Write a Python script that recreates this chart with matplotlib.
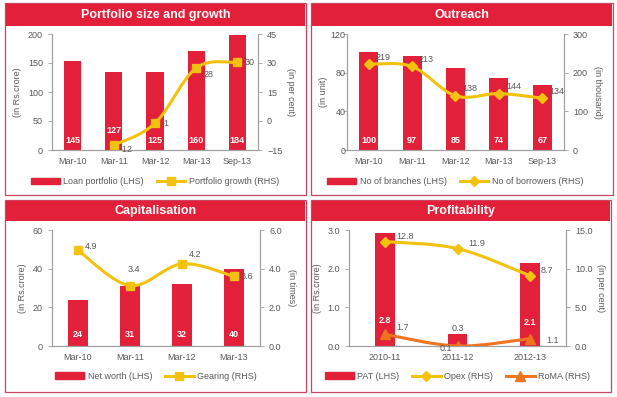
import matplotlib
matplotlib.use("Agg")
import matplotlib.pyplot as plt
from matplotlib.patches import Rectangle, PathPatch, Patch
from matplotlib.path import Path
from matplotlib.lines import Line2D
import numpy as np

plt.rcParams['font.family'] = ['Liberation Sans', 'DejaVu Sans']

# ---------------- data ----------------
port_cats = ["Mar-10", "Mar-11", "Mar-12", "Mar-13", "Sep-13"]
port_loan = [154, 135, 134, 171, 198]           # bar heights as drawn
port_loan_labels = ["145", "127", "125", "160", "184"]
port_growth_x = [1, 2, 3, 4]
port_growth = [-12.5, -1.2, 27.5, 30.3]
port_growth_labels = ["-12", "-1", "28", "30"]

out_cats = ["Mar-10", "Mar-11", "Mar-12", "Mar-13", "Sep-13"]
out_branches = [101, 97.5, 85, 74, 67]
out_branch_labels = ["100", "97", "85", "74", "67"]
out_borrowers = [222, 216, 140, 146, 134]
out_borrower_labels = ["219", "213", "138", "144", "134"]

cap_cats = ["Mar-10", "Mar-11", "Mar-12", "Mar-13"]
cap_networth = [24, 31, 32, 40]
cap_networth_labels = ["24", "31", "32", "40"]
cap_gearing = [4.95, 3.12, 4.25, 3.6]
cap_gearing_labels = ["4.9", "3.4", "4.2", "3.6"]

prof_cats = ["2010-11", "2011-12", "2012-13"]
prof_pat = [2.91, 0.32, 2.15]
prof_pat_labels = ["2.8", "0.3", "2.1"]
prof_opex = [13.5, 12.6, 9.1]
prof_opex_labels = ["12.8", "11.9", "8.7"]
prof_roma = [1.5, 0.0, 0.95]
prof_roma_labels = ["1.7", "0.1", "1.1"]

# ---------------- style ----------------
RED = '#E2203A'
YEL = '#F3C20F'
ORG = '#EE7420'
GRAY = '#595959'
SPINE = '#A0A0A0'
W, H = 617, 397

fig = plt.figure(figsize=(W / 100, H / 100), dpi=100)
fig.patch.set_facecolor('white')


def fx(x):
    return x / W


def fy(y):
    return 1 - y / H


def panel(x0, y0, x1, y1, title, banner_h):
    fig.add_artist(Rectangle((fx(x0), fy(y1)), fx(x1 - x0), (y1 - y0) / H,
                             transform=fig.transFigure, fill=False,
                             edgecolor='#C9465E', lw=0.9))
    fig.add_artist(Rectangle((fx(x0 + 1), fy(y0 + 1 + banner_h)), fx(x1 - x0 - 2), banner_h / H,
                             transform=fig.transFigure, facecolor=RED, edgecolor='none'))
    fig.text(fx((x0 + x1) / 2), fy(y0 + 1 + banner_h / 2), title, color='white',
             fontsize=9, fontweight='bold', ha='center', va='center')


def make_axes(l, r, t, b):
    ax = fig.add_axes([fx(l), fy(b), fx(r - l), (b - t) / H])
    ax2 = ax.twinx()
    for a in (ax, ax2):
        for s in ('top',):
            a.spines[s].set_visible(False)
        for s in ('left', 'right', 'bottom'):
            a.spines[s].set_color(SPINE)
            a.spines[s].set_linewidth(0.8)
        a.tick_params(colors=GRAY, labelsize=6.5, length=3, width=0.6, color=SPINE)
        a.tick_params(axis='x', length=0, pad=5)
    ax.set_zorder(1)
    ax2.set_zorder(2)
    ax.patch.set_visible(False)
    return ax, ax2


def smooth(ax, xs, ys, color, lw):
    xs = np.asarray(xs, float)
    ys = np.asarray(ys, float)
    n = len(xs)
    verts = [(xs[0], ys[0])]
    codes = [Path.MOVETO]
    for i in range(n - 1):
        p0 = (xs[i - 1], ys[i - 1]) if i > 0 else (xs[i], ys[i])
        p1 = (xs[i], ys[i])
        p2 = (xs[i + 1], ys[i + 1])
        p3 = (xs[i + 2], ys[i + 2]) if i + 2 < n else p2
        c1 = (p1[0] + (p2[0] - p0[0]) / 6, p1[1] + (p2[1] - p0[1]) / 6)
        c2 = (p2[0] - (p3[0] - p1[0]) / 6, p2[1] - (p3[1] - p1[1]) / 6)
        verts += [c1, c2, p2]
        codes += [Path.CURVE4] * 3
    ax.add_patch(PathPatch(Path(verts, codes), facecolor='none', edgecolor=color,
                           lw=lw, capstyle='round', joinstyle='round'))


def legend(ax, handles, labels, y):
    ax.legend(handles, labels, loc='center', bbox_to_anchor=(0.5, y), ncol=len(handles),
              frameon=False, fontsize=6.5, handlelength=3.2, handletextpad=0.4,
              columnspacing=1.4, labelcolor=GRAY)


def bar_labels(ax, xs, labels, yfrac, color='white'):
    for x, lab, yf in zip(xs, labels, yfrac):
        ax.text(x, yf, lab, transform=ax.get_xaxis_transform(), ha='center', va='center',
                color=color, fontsize=6.5, fontweight='bold', zorder=5)


# ---------------- panels ----------------
panel(5, 3, 306, 195, "Portfolio size and growth", 22)
panel(311, 3, 613, 195, "Outreach", 22)
panel(5, 200, 306, 392, "Capitalisation", 20)
panel(311, 200, 611, 392, "Profitability", 20)

# ---- Portfolio ----
ax, ax2 = make_axes(52, 258, 34, 150)
x = np.arange(len(port_cats))
ax.bar(x, port_loan, width=0.42, color=RED, zorder=2)
ax.set_xlim(-0.5, len(port_cats) - 0.5)
ax.set_ylim(0, 200)
ax.set_yticks([0, 50, 100, 150, 200])
ax.set_xticks(x, port_cats)
ax2.set_ylim(-15, 45)
ax2.set_yticks([-15, 0, 15, 30, 45])
smooth(ax2, port_growth_x, port_growth, YEL, 2.2)
ax2.plot(port_growth_x, port_growth, ls='none', marker='s', ms=6, color=YEL)
for xx, yy, lab, off in zip(port_growth_x, port_growth, port_growth_labels,
                            [(4, -3), (5, 0), (5, -5), (5, 0)]):
    ax2.annotate(lab, (xx, yy), xytext=off, textcoords='offset points', fontsize=6.5,
                 color=GRAY, va='center', ha='left')
bar_labels(ax, x, port_loan_labels, [0.08, 0.17, 0.08, 0.08, 0.08])
ax.set_ylabel("(in Rs.crore)", color=GRAY, fontsize=6.5, labelpad=4)
ax2.set_ylabel("(in per cent)", color=GRAY, fontsize=6.5, rotation=-90, labelpad=9)
legend(ax2, [Patch(color=RED), Line2D([], [], color=YEL, lw=2.2, marker='s', ms=6)],
       ["Loan portfolio (LHS)", "Portfolio growth (RHS)"], -0.275)

# ---- Outreach ----
ax, ax2 = make_axes(347, 564, 34, 150)
x = np.arange(len(out_cats))
ax.bar(x, out_branches, width=0.44, color=RED, zorder=2)
ax.set_xlim(-0.5, len(out_cats) - 0.5)
ax.set_ylim(0, 120)
ax.set_yticks([0, 40, 80, 120])
ax.set_xticks(x, out_cats)
ax.tick_params(axis='y', pad=-2)
ax2.set_ylim(0, 300)
ax2.set_yticks([0, 100, 200, 300])
smooth(ax2, x, out_borrowers, YEL, 2.2)
ax2.plot(x, out_borrowers, ls='none', marker='D', ms=5, color=YEL)
for xx, yy, lab in zip(x, out_borrowers, out_borrower_labels):
    ax2.annotate(lab, (xx, yy), xytext=(5, 5), textcoords='offset points', fontsize=6.5,
                 color=GRAY, va='center', ha='left')
bar_labels(ax, x, out_branch_labels, [0.08] * 5)
ax.set_ylabel("(in unit)", color=GRAY, fontsize=6.5, labelpad=2)
ax2.set_ylabel("(in thousand)", color=GRAY, fontsize=6.5, rotation=-90, labelpad=10)
legend(ax2, [Patch(color=RED), Line2D([], [], color=YEL, lw=2.2, marker='D', ms=5)],
       ["No of branches (LHS)", "No of borrowers (RHS)"], -0.275)

# ---- Capitalisation ----
ax, ax2 = make_axes(52, 260, 230, 346)
x = np.arange(len(cap_cats))
ax.bar(x, cap_networth, width=0.37, color=RED, zorder=2)
ax.set_xlim(-0.5, len(cap_cats) - 0.5)
ax.set_ylim(0, 60)
ax.set_yticks([0, 20, 40, 60])
ax.set_xticks(x, cap_cats)
ax2.set_ylim(0, 6)
ax2.set_yticks([0, 2, 4, 6])
ax2.set_yticklabels(["0.0", "2.0", "4.0", "6.0"])
smooth(ax2, x, cap_gearing, YEL, 2.2)
ax2.plot(x, cap_gearing, ls='none', marker='s', ms=6, color=YEL)
for xx, yy, lab, off in zip(x, cap_gearing, cap_gearing_labels,
                            [(5, 3), (-2, 12), (5, 7), (5, 0)]):
    ax2.annotate(lab, (xx, yy), xytext=off, textcoords='offset points', fontsize=6.5,
                 color=GRAY, va='center', ha='left')
bar_labels(ax, x, cap_networth_labels, [0.10] * 4)
ax.set_ylabel("(in Rs.crore)", color=GRAY, fontsize=6.5, labelpad=4)
ax2.set_ylabel("(in times)", color=GRAY, fontsize=6.5, rotation=-90, labelpad=10)
legend(ax2, [Patch(color=RED), Line2D([], [], color=YEL, lw=2.2, marker='s', ms=6)],
       ["Net worth (LHS)", "Gearing (RHS)"], -0.26)

# ---- Profitability ----
ax, ax2 = make_axes(349, 566, 230, 346)
x = np.arange(len(prof_cats))
ax.bar(x, prof_pat, width=0.27, color=RED, zorder=2)
ax.set_xlim(-0.5, len(prof_cats) - 0.5)
ax.set_ylim(0, 3)
ax.set_yticks([0, 1, 2, 3])
ax.set_yticklabels(["0.0", "1.0", "2.0", "3.0"])
ax.set_xticks(x, prof_cats)
ax2.set_ylim(0, 15)
ax2.set_yticks([0, 5, 10, 15])
ax2.set_yticklabels(["0.0", "5.0", "10.0", "15.0"])
smooth(ax2, x, prof_opex, YEL, 2.2)
ax2.plot(x, prof_opex, ls='none', marker='D', ms=5, color=YEL)
smooth(ax2, x, prof_roma, ORG, 2.2)
ax2.plot(x, prof_roma, ls='none', marker='^', ms=7, color=ORG)
for xx, yy, lab in zip(x, prof_opex, prof_opex_labels):
    ax2.annotate(lab, (xx, yy), xytext=(8, 4), textcoords='offset points', fontsize=6.5,
                 color=GRAY, va='center', ha='left')
for xx, yy, lab, off, ha in zip(x, prof_roma, prof_roma_labels,
                                [(8, 5), (-4, -2), (12, -1)], ['left', 'right', 'left']):
    ax2.annotate(lab, (xx, yy), xytext=off, textcoords='offset points', fontsize=6.5,
                 color=GRAY, va='center', ha=ha)
for xx, lab, yf, c in zip(x, prof_pat_labels, [0.22, 0.15, 0.2], ['white', GRAY, 'white']):
    ax.text(xx, yf, lab, transform=ax.get_xaxis_transform(), ha='center', va='center',
            color=c, fontsize=6.5, fontweight='bold' if c == 'white' else 'normal', zorder=5)
ax.set_ylabel("(in Rs.crore)", color=GRAY, fontsize=6.5, labelpad=4)
ax2.set_ylabel("(in per cent)", color=GRAY, fontsize=6.5, rotation=-90, labelpad=9)
legend(ax2, [Patch(color=RED), Line2D([], [], color=YEL, lw=2.2, marker='D', ms=5),
             Line2D([], [], color=ORG, lw=2.2, marker='^', ms=7)],
       ["PAT (LHS)", "Opex (RHS)", "RoMA (RHS)"], -0.26)

fig.savefig("out.png", dpi=100, facecolor='white')
